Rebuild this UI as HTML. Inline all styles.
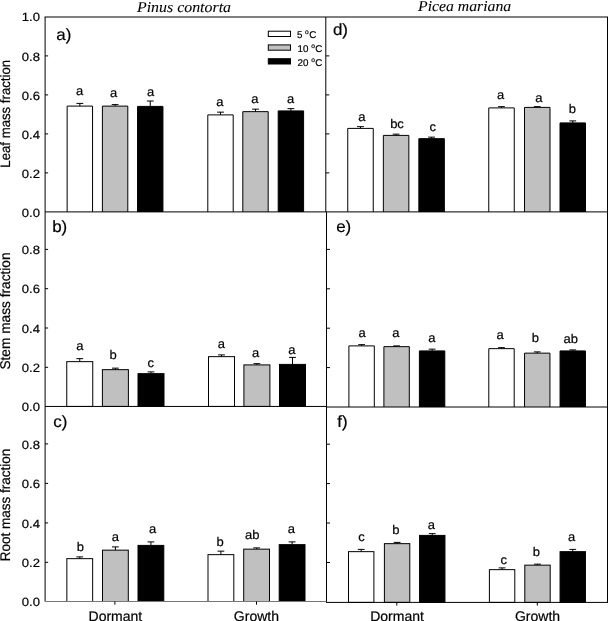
<!DOCTYPE html>
<html><head><meta charset="utf-8"><title>Mass fractions</title>
<style>
html,body{margin:0;padding:0;background:#fff;}
body{width:608px;height:621px;overflow:hidden;}
svg{display:block;will-change:transform;}
text{text-rendering:geometricPrecision;font-family:"Liberation Sans",sans-serif;fill:#000;stroke:#000;stroke-width:0.2px;}
.ti{font-family:"Liberation Serif",serif;font-style:italic;stroke-width:0.08px;}
</style></head><body>
<svg width="608" height="621" viewBox="0 0 608 621">
<rect x="0" y="0" width="608" height="621" fill="#fff"/>
<g stroke="#000" stroke-width="1">
<path d="M67.15 211.90V106.10H92.55V211.90" fill="#ffffff"/>
<path d="M79.85 106.10V103.40M76.45 103.40H83.25" fill="none"/>
<path d="M102.40 211.90V106.10H127.80V211.90" fill="#c0c0c0"/>
<path d="M115.10 106.10V104.60M111.70 104.60H118.50" fill="none"/>
<path d="M137.55 211.90V106.40H162.95V211.90" fill="#000000"/>
<path d="M150.25 106.40V101.00M146.85 101.00H153.65" fill="none"/>
<path d="M207.80 211.90V114.90H233.20V211.90" fill="#ffffff"/>
<path d="M220.50 114.90V112.15M217.10 112.15H223.90" fill="none"/>
<path d="M242.80 211.90V111.65H268.20V211.90" fill="#c0c0c0"/>
<path d="M255.50 111.65V109.15M252.10 109.15H258.90" fill="none"/>
<path d="M278.20 211.90V110.90H303.60V211.90" fill="#000000"/>
<path d="M290.90 110.90V108.65M287.50 108.65H294.30" fill="none"/>
<path d="M347.75 211.90V128.40H373.25V211.90" fill="#ffffff"/>
<path d="M360.50 128.40V126.65M357.10 126.65H363.90" fill="none"/>
<path d="M383.35 211.90V135.40H408.85V211.90" fill="#c0c0c0"/>
<path d="M396.10 135.40V134.15M392.70 134.15H399.50" fill="none"/>
<path d="M418.85 211.90V138.65H444.35V211.90" fill="#000000"/>
<path d="M431.60 138.65V137.15M428.20 137.15H435.00" fill="none"/>
<path d="M488.75 211.90V107.90H514.25V211.90" fill="#ffffff"/>
<path d="M501.50 107.90V106.65M498.10 106.65H504.90" fill="none"/>
<path d="M524.50 211.90V107.40H550.00V211.90" fill="#c0c0c0"/>
<path d="M537.25 107.40V106.65M533.85 106.65H540.65" fill="none"/>
<path d="M560.00 211.90V122.90H585.50V211.90" fill="#000000"/>
<path d="M572.75 122.90V120.90M569.35 120.90H576.15" fill="none"/>
<rect x="66.75" y="361.65" width="26.00" height="44.80" fill="#ffffff"/>
<path d="M79.75 361.65V358.65M76.35 358.65H83.15" fill="none"/>
<rect x="102.40" y="369.65" width="26.00" height="36.80" fill="#c0c0c0"/>
<path d="M115.40 369.65V368.15M112.00 368.15H118.80" fill="none"/>
<rect x="138.00" y="373.65" width="26.00" height="32.80" fill="#000000"/>
<path d="M151.00 373.65V371.90M147.60 371.90H154.40" fill="none"/>
<rect x="208.50" y="356.65" width="26.00" height="49.80" fill="#ffffff"/>
<path d="M221.50 356.65V354.90M218.10 354.90H224.90" fill="none"/>
<rect x="243.90" y="364.90" width="26.00" height="41.55" fill="#c0c0c0"/>
<path d="M256.90 364.90V363.65M253.50 363.65H260.30" fill="none"/>
<rect x="279.50" y="364.40" width="26.00" height="42.05" fill="#000000"/>
<path d="M292.50 364.40V357.40M289.10 357.40H295.90" fill="none"/>
<path d="M348.90 407.00V345.90H374.30V407.00" fill="#ffffff"/>
<path d="M361.60 345.90V344.65M358.20 344.65H365.00" fill="none"/>
<path d="M383.90 407.00V346.65H409.30V407.00" fill="#c0c0c0"/>
<path d="M396.60 346.65V345.90M393.20 345.90H400.00" fill="none"/>
<path d="M419.40 407.00V350.90H444.80V407.00" fill="#000000"/>
<path d="M432.10 350.90V349.15M428.70 349.15H435.50" fill="none"/>
<path d="M488.80 407.00V348.65H514.20V407.00" fill="#ffffff"/>
<path d="M501.50 348.65V347.65M498.10 347.65H504.90" fill="none"/>
<path d="M524.55 407.00V353.15H549.95V407.00" fill="#c0c0c0"/>
<path d="M537.25 353.15V351.90M533.85 351.90H540.65" fill="none"/>
<path d="M560.05 407.00V350.90H585.45V407.00" fill="#000000"/>
<path d="M572.75 350.90V349.90M569.35 349.90H576.15" fill="none"/>
<rect x="66.85" y="558.65" width="25.80" height="42.85" fill="#ffffff"/>
<path d="M79.75 558.65V556.90M76.35 556.90H83.15" fill="none"/>
<rect x="102.50" y="550.15" width="25.80" height="51.35" fill="#c0c0c0"/>
<path d="M115.40 550.15V546.90M112.00 546.90H118.80" fill="none"/>
<rect x="138.00" y="545.40" width="25.80" height="56.10" fill="#000000"/>
<path d="M150.90 545.40V541.90M147.50 541.90H154.30" fill="none"/>
<rect x="208.00" y="554.65" width="25.80" height="46.85" fill="#ffffff"/>
<path d="M220.90 554.65V551.15M217.50 551.15H224.30" fill="none"/>
<rect x="243.70" y="549.15" width="25.80" height="52.35" fill="#c0c0c0"/>
<path d="M256.60 549.15V547.90M253.20 547.90H260.00" fill="none"/>
<rect x="279.20" y="544.65" width="25.80" height="56.85" fill="#000000"/>
<path d="M292.10 544.65V541.90M288.70 541.90H295.50" fill="none"/>
<rect x="348.50" y="551.65" width="25.40" height="50.75" fill="#ffffff"/>
<path d="M361.20 551.65V549.40M357.80 549.40H364.60" fill="none"/>
<rect x="384.40" y="543.65" width="25.40" height="58.75" fill="#c0c0c0"/>
<path d="M397.10 543.65V542.40M393.70 542.40H400.50" fill="none"/>
<rect x="419.55" y="535.40" width="25.40" height="67.00" fill="#000000"/>
<path d="M432.25 535.40V533.65M428.85 533.65H435.65" fill="none"/>
<rect x="489.40" y="569.65" width="25.40" height="32.75" fill="#ffffff"/>
<path d="M502.10 569.65V567.90M498.70 567.90H505.50" fill="none"/>
<rect x="524.80" y="565.15" width="25.40" height="37.25" fill="#c0c0c0"/>
<path d="M537.50 565.15V564.15M534.10 564.15H540.90" fill="none"/>
<rect x="560.05" y="551.65" width="25.40" height="50.75" fill="#000000"/>
<path d="M572.75 551.65V549.40M569.35 549.40H576.15" fill="none"/>
</g>
<g stroke="#000" stroke-width="1" fill="none">
<path d="M44.60 17.00H608.00"/>
<path d="M45.10 17.00V601.50"/>
<path d="M607.50 17.00V602.90"/>
<path d="M325.80 17.00V211.90"/>
<path d="M326.50 211.90V602.90"/>
<path d="M45.10 211.90H607.50"/>
<path d="M45.10 406.45H326.50"/>
<path d="M326.50 407.00H607.50"/>
<path d="M45.10 601.50H326.50" stroke="#777"/>
<path d="M326.50 602.40H607.50"/>
<path d="M45.10 172.90h3"/>
<path d="M45.10 133.90h3"/>
<path d="M45.10 94.90h3"/>
<path d="M45.10 55.90h3"/>
<path d="M325.80 172.90h3.5"/>
<path d="M325.80 133.90h3.5"/>
<path d="M325.80 94.90h3.5"/>
<path d="M325.80 55.90h3.5"/>
<path d="M45.10 367.30h3"/>
<path d="M45.10 328.00h3"/>
<path d="M45.10 288.70h3"/>
<path d="M45.10 249.40h3"/>
<path d="M326.50 367.60h3.5"/>
<path d="M326.50 328.20h3.5"/>
<path d="M326.50 288.80h3.5"/>
<path d="M326.50 249.40h3.5"/>
<path d="M45.10 562.30h3"/>
<path d="M45.10 522.90h3"/>
<path d="M45.10 483.40h3"/>
<path d="M45.10 443.90h3"/>
<path d="M326.50 562.50h3.5"/>
<path d="M326.50 523.00h3.5"/>
<path d="M326.50 483.60h3.5"/>
<path d="M326.50 444.20h3.5"/>
<path d="M114.90 601.50v3.2"/>
<path d="M256.50 601.50v3.2"/>
<path d="M396.80 602.40v3.2"/>
<path d="M537.30 602.40v3.2"/>
</g>
<g stroke="#000" stroke-width="1">
<rect x="268.3" y="31.20" width="22.2" height="5.3" fill="#ffffff"/>
<rect x="268.3" y="44.90" width="22.2" height="5.3" fill="#c0c0c0"/>
<rect x="268.3" y="58.70" width="22.2" height="5.3" fill="#000000"/>
</g>
<text x="296.90" y="38.40" font-size="9.8">5 <tspan font-size="6.6" dy="-4.1">o</tspan><tspan dy="4.1" dx="0.4">C</tspan></text>
<text x="297.60" y="51.90" font-size="9.8">10 <tspan font-size="6.6" dy="-4.1">o</tspan><tspan dy="4.1" dx="0.4">C</tspan></text>
<text x="297.60" y="65.60" font-size="9.8">20 <tspan font-size="6.6" dy="-4.1">o</tspan><tspan dy="4.1" dx="0.4">C</tspan></text>
<text transform="translate(40.0 216.60) scale(1.09 1)" font-size="12" text-anchor="end">0.0</text>
<text transform="translate(40.0 177.60) scale(1.09 1)" font-size="12" text-anchor="end">0.2</text>
<text transform="translate(40.0 138.60) scale(1.09 1)" font-size="12" text-anchor="end">0.4</text>
<text transform="translate(40.0 99.60) scale(1.09 1)" font-size="12" text-anchor="end">0.6</text>
<text transform="translate(40.0 60.60) scale(1.09 1)" font-size="12" text-anchor="end">0.8</text>
<text transform="translate(40.0 21.40) scale(1.09 1)" font-size="12" text-anchor="end">1.0</text>
<text transform="translate(40.0 411.15) scale(1.09 1)" font-size="12" text-anchor="end">0.0</text>
<text transform="translate(40.0 372.00) scale(1.09 1)" font-size="12" text-anchor="end">0.2</text>
<text transform="translate(40.0 332.70) scale(1.09 1)" font-size="12" text-anchor="end">0.4</text>
<text transform="translate(40.0 293.40) scale(1.09 1)" font-size="12" text-anchor="end">0.6</text>
<text transform="translate(40.0 254.10) scale(1.09 1)" font-size="12" text-anchor="end">0.8</text>
<text transform="translate(40.0 606.20) scale(1.09 1)" font-size="12" text-anchor="end">0.0</text>
<text transform="translate(40.0 567.00) scale(1.09 1)" font-size="12" text-anchor="end">0.2</text>
<text transform="translate(40.0 527.60) scale(1.09 1)" font-size="12" text-anchor="end">0.4</text>
<text transform="translate(40.0 488.10) scale(1.09 1)" font-size="12" text-anchor="end">0.6</text>
<text transform="translate(40.0 448.60) scale(1.09 1)" font-size="12" text-anchor="end">0.8</text>
<text transform="translate(9.8 113.80) rotate(-90) scale(1 1.03)" font-size="13.2" text-anchor="middle">Leaf mass fraction</text>
<text transform="translate(9.8 311.00) rotate(-90) scale(1 1.03)" font-size="13.7" text-anchor="middle">Stem mass fraction</text>
<text transform="translate(9.8 504.90) rotate(-90) scale(1 1.03)" font-size="13.5" text-anchor="middle">Root mass fraction</text>
<text transform="translate(56.30 39.50) scale(1.04 1)" font-size="16.3" stroke-width="0.35">a)</text>
<text transform="translate(52.20 231.70) scale(1.04 1)" font-size="16.3" stroke-width="0.35">b)</text>
<text transform="translate(53.30 426.70) scale(1.04 1)" font-size="16.3" stroke-width="0.35">c)</text>
<text transform="translate(332.90 34.70) scale(1.04 1)" font-size="16.3" stroke-width="0.35">d)</text>
<text transform="translate(336.20 231.50) scale(1.04 1)" font-size="16.3" stroke-width="0.35">e)</text>
<text transform="translate(337.20 426.60) scale(1.04 1)" font-size="16.3" stroke-width="0.35">f)</text>
<text class="ti" transform="translate(184 12.0) scale(1.06 1)" font-size="15" text-anchor="middle">Pinus contorta</text>
<text class="ti" transform="translate(464.6 10.9) scale(1.05 1)" font-size="15" text-anchor="middle">Picea mariana</text>
<text x="115.40" y="620.8" font-size="14" stroke-width="0.05" text-anchor="middle">Dormant</text>
<text x="256.40" y="620.8" font-size="14" stroke-width="0.05" text-anchor="middle">Growth</text>
<text x="397.00" y="620.8" font-size="14" stroke-width="0.05" text-anchor="middle">Dormant</text>
<text x="537.50" y="620.8" font-size="14" stroke-width="0.05" text-anchor="middle">Growth</text>
<text transform="translate(79.60 94.80) scale(1.04 1)" font-size="12.5" text-anchor="middle">a</text>
<text transform="translate(113.70 97.40) scale(1.04 1)" font-size="12.5" text-anchor="middle">a</text>
<text transform="translate(150.70 95.70) scale(1.04 1)" font-size="12.5" text-anchor="middle">a</text>
<text transform="translate(219.75 106.25) scale(1.04 1)" font-size="12.5" text-anchor="middle">a</text>
<text transform="translate(254.75 103.00) scale(1.04 1)" font-size="12.5" text-anchor="middle">a</text>
<text transform="translate(290.50 102.50) scale(1.04 1)" font-size="12.5" text-anchor="middle">a</text>
<text transform="translate(361.75 120.75) scale(1.04 1)" font-size="12.5" text-anchor="middle">a</text>
<text transform="translate(397.00 127.50) scale(1.04 1)" font-size="12.5" text-anchor="middle">bc</text>
<text transform="translate(432.75 131.00) scale(1.04 1)" font-size="12.5" text-anchor="middle">c</text>
<text transform="translate(500.50 99.25) scale(1.04 1)" font-size="12.5" text-anchor="middle">a</text>
<text transform="translate(538.75 101.75) scale(1.04 1)" font-size="12.5" text-anchor="middle">a</text>
<text transform="translate(572.25 113.25) scale(1.04 1)" font-size="12.5" text-anchor="middle">b</text>
<text transform="translate(79.75 350.00) scale(1.04 1)" font-size="12.5" text-anchor="middle">a</text>
<text transform="translate(113.00 359.25) scale(1.04 1)" font-size="12.5" text-anchor="middle">b</text>
<text transform="translate(150.75 367.00) scale(1.04 1)" font-size="12.5" text-anchor="middle">c</text>
<text transform="translate(221.25 348.00) scale(1.04 1)" font-size="12.5" text-anchor="middle">a</text>
<text transform="translate(255.50 356.75) scale(1.04 1)" font-size="12.5" text-anchor="middle">a</text>
<text transform="translate(291.75 353.50) scale(1.04 1)" font-size="12.5" text-anchor="middle">a</text>
<text transform="translate(362.00 336.75) scale(1.04 1)" font-size="12.5" text-anchor="middle">a</text>
<text transform="translate(395.75 336.75) scale(1.04 1)" font-size="12.5" text-anchor="middle">a</text>
<text transform="translate(431.75 341.75) scale(1.04 1)" font-size="12.5" text-anchor="middle">a</text>
<text transform="translate(500.00 338.75) scale(1.04 1)" font-size="12.5" text-anchor="middle">a</text>
<text transform="translate(535.25 342.25) scale(1.04 1)" font-size="12.5" text-anchor="middle">b</text>
<text transform="translate(570.75 343.00) scale(1.04 1)" font-size="12.5" text-anchor="middle">ab</text>
<text transform="translate(80.25 551.25) scale(1.04 1)" font-size="12.5" text-anchor="middle">b</text>
<text transform="translate(115.25 540.75) scale(1.04 1)" font-size="12.5" text-anchor="middle">a</text>
<text transform="translate(152.50 533.25) scale(1.04 1)" font-size="12.5" text-anchor="middle">a</text>
<text transform="translate(220.00 545.50) scale(1.04 1)" font-size="12.5" text-anchor="middle">b</text>
<text transform="translate(252.25 539.25) scale(1.04 1)" font-size="12.5" text-anchor="middle">ab</text>
<text transform="translate(291.25 533.00) scale(1.04 1)" font-size="12.5" text-anchor="middle">a</text>
<text transform="translate(361.50 541.25) scale(1.04 1)" font-size="12.5" text-anchor="middle">c</text>
<text transform="translate(395.75 533.75) scale(1.04 1)" font-size="12.5" text-anchor="middle">b</text>
<text transform="translate(431.25 528.50) scale(1.04 1)" font-size="12.5" text-anchor="middle">a</text>
<text transform="translate(503.75 564.25) scale(1.04 1)" font-size="12.5" text-anchor="middle">c</text>
<text transform="translate(536.25 556.00) scale(1.04 1)" font-size="12.5" text-anchor="middle">b</text>
<text transform="translate(571.50 540.75) scale(1.04 1)" font-size="12.5" text-anchor="middle">a</text>
</svg>
</body></html>
